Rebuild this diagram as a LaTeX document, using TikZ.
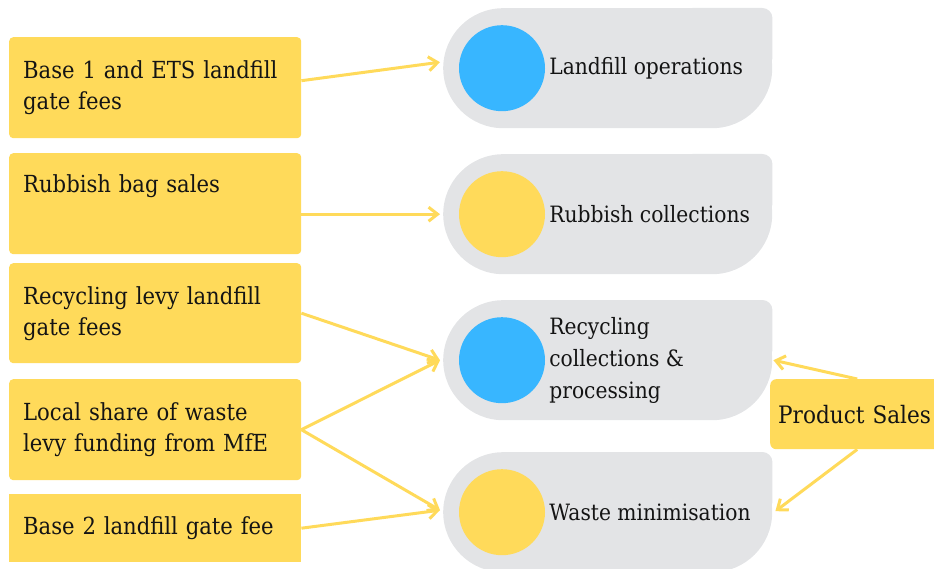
\documentclass[tikz,border=0pt]{standalone}
\usepackage{fontspec}
\setmainfont[FakeStretch=0.9]{DejaVu Serif}
\usetikzlibrary{arrows.meta,positioning}

\definecolor{boxyellow}{RGB}{255,218,90}
\definecolor{dotblue}{RGB}{56,182,255}
\definecolor{leafgray}{RGB}{227,228,230}
\definecolor{inkblack}{RGB}{20,20,20}

\tikzset{
  srcbox/.style={fill=boxyellow, text=inkblack, rounded corners=4pt, anchor=north west,
    minimum width=292pt, text width=264pt, inner xsep=14pt, inner ysep=0pt, align=left,
    font=\fontsize{23.5}{31}\selectfont},
  leaf/.style={fill=leafgray, rounded corners=60pt, minimum width=329pt, minimum height=120pt,
    anchor=north west, inner sep=0pt},
  dot/.style={circle, minimum size=86pt, inner sep=0pt},
  lbl/.style={right=4pt of #1, inner sep=0pt, align=left, text=inkblack,
    font=\fontsize{22.5}{32}\selectfont},
  flow/.style={-{Straight Barb[length=9pt,width=14pt]}, line width=3pt, boxyellow},
}

\begin{document}
\begin{tikzpicture}[x=1pt, y=-1pt]
    \useasboundingbox (0,0) rectangle (934,569);
    \clip (0,0) rectangle (934,569);
    % funding sources
    \node[srcbox, minimum height=101pt] (b1) at (9,37) {Base 1 and ETS landfill\\gate fees};
    \node[srcbox, minimum height=101pt] (b2) at (9,153) {Rubbish bag sales\\\strut};
    \node[srcbox, minimum height=100pt] (b3) at (9,263) {Recycling levy landfill\\gate fees};
    \node[srcbox, minimum height=101pt] (b4) at (9,379) {Local share of waste\\levy funding from MfE};
    \node[srcbox, minimum height=68pt, sharp corners] (b5) at (9,494) {Base 2 landfill gate fee};
    % activities
    \foreach \g/\y in {g1/8, g2/154, g3/300, g4/452} {
        \node[leaf] (\g) at (443,\y) {};
        \fill[leafgray, rounded corners=10pt] (\g.north east) rectangle ++(-90,60);
    }
    \node[dot, fill=dotblue] (d1) at ([xshift=59pt]g1.west) {};
    \node[dot, fill=boxyellow] (d2) at ([xshift=59pt]g2.west) {};
    \node[dot, fill=dotblue] (d3) at ([xshift=59pt]g3.west) {};
    \node[dot, fill=boxyellow] (d4) at ([xshift=59pt]g4.west) {};
    \node[lbl=d1] (t1) {Landfill operations};
    \node[lbl=d2] (t2) {Rubbish collections};
    \node[lbl=d3] (t3) {Recycling\\collections \&\\processing};
    \node[lbl=d4] (t4) {Waste minimisation};
    % product sales
    \node[srcbox, rounded corners=6pt, minimum width=174pt, text width=158pt, inner xsep=8pt,
        minimum height=70pt, font=\fontsize{24}{31}\selectfont] (ps) at (770,379) {Product Sales};
    % flows
    \draw[flow] ([yshift=7pt]b1.east) -- ([xshift=-3pt,yshift=6pt]g1.west);
    \draw[flow] ([yshift=-10.5pt]b2.east) -- ([xshift=-3pt]g2.west);
    \draw[flow] (b3.east) -- ([xshift=-3pt]g3.west);
    \draw[flow] (b4.east) -- ([xshift=-3pt]g3.west);
    \draw[flow] (b4.east) -- ([xshift=-3pt,yshift=2pt]g4.west);
    \draw[flow] (b5.east) -- ([xshift=-3pt,yshift=2pt]g4.west);
    \draw[flow] (ps.north) -- ([xshift=1pt]g3.east);
    \draw[flow] (ps.south) -- ([xshift=3pt,yshift=1pt]g4.east);
\end{tikzpicture}
\end{document}
